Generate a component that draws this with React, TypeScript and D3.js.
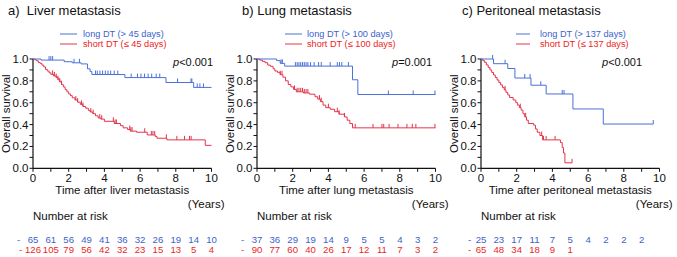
import React from "react";
import * as d3 from "d3";

const W = 677, H = 257;
const FONT = "'Liberation Sans', Arial, Helvetica, sans-serif";
const BLUE_LINE = "#4a70d8";
const RED_LINE = "#e3344a";
const BLUE_TXT = "#3c63cc";
const RED_TXT = "#ee2424";

// ---------- data ----------
const titles = ["a)  Liver metastasis", "b) Lung metastasis", "c) Peritoneal metastasis"];
const xLabels = ["Time after liver metastasis", "Time after lung metastasis", "Time after peritoneal metastasis"];
const longLabels = ["long DT (> 45 days)", "long DT (> 100 days)", "long DT (> 137 days)"];
const shortLabels = ["short DT (\u2264 45 days)", "short DT (\u2264 100 days)", "short DT (\u2264 137 days)"];
const pOps = ["<", "=", "<"];
const pValues = ["0.001", "0.001", "0.001"];
const xTicks = [0, 2, 4, 6, 8, 10];
const yTicks = [0, 0.2, 0.4, 0.6, 0.8, 1.0];

const riskLong = [
  [65, 61, 56, 49, 41, 36, 32, 26, 19, 14, 10],
  [37, 36, 29, 19, 14, 9, 5, 5, 4, 3, 2],
  [25, 23, 17, 11, 7, 5, 4, 2, 2, 2],
];
const riskShort = [
  [126, 105, 79, 56, 42, 32, 23, 15, 13, 5, 4],
  [90, 77, 60, 40, 26, 17, 12, 11, 7, 3, 2],
  [65, 48, 34, 18, 9, 1],
];

// survival steps [time, survival]
const liverLong = [[0, 1], [0.45, 0.99], [1.75, 0.975], [2.2, 0.965], [2.7, 0.955], [3.05, 0.91], [3.2, 0.885], [3.3, 0.858], [5.15, 0.83], [7.45, 0.785], [9.0, 0.74], [10, 0.74]];
const liverShort = [[0, 1], [0.1, 0.992], [0.2, 0.984], [0.3, 0.968], [0.4, 0.96], [0.5, 0.944], [0.6, 0.928], [0.7, 0.905], [0.8, 0.89], [0.9, 0.874], [1.0, 0.86], [1.15, 0.845], [1.3, 0.83], [1.4, 0.81], [1.5, 0.79], [1.6, 0.765], [1.7, 0.745], [1.8, 0.72], [1.9, 0.7], [2.0, 0.68], [2.1, 0.665], [2.2, 0.645], [2.35, 0.625], [2.5, 0.605], [2.65, 0.585], [2.8, 0.565], [2.95, 0.55], [3.1, 0.53], [3.2, 0.515], [3.35, 0.5], [3.5, 0.48], [3.65, 0.46], [3.8, 0.45], [4.0, 0.43], [4.55, 0.41], [4.9, 0.39], [5.05, 0.37], [5.3, 0.355], [5.45, 0.34], [5.8, 0.33], [6.4, 0.305], [6.85, 0.29], [6.95, 0.275], [7.5, 0.26], [9.65, 0.21], [10, 0.21]];
const lungLong = [[0, 1], [1.1, 0.985], [1.3, 0.96], [1.55, 0.935], [5.35, 0.81], [5.65, 0.675], [10, 0.675]];
const lungShort = [[0, 1], [0.15, 0.99], [0.3, 0.978], [0.45, 0.966], [0.6, 0.944], [0.75, 0.933], [0.9, 0.911], [1.0, 0.89], [1.15, 0.878], [1.3, 0.856], [1.45, 0.834], [1.6, 0.8], [1.75, 0.767], [1.9, 0.745], [2.05, 0.722], [2.2, 0.7], [2.6, 0.689], [2.95, 0.678], [3.25, 0.655], [3.4, 0.633], [3.55, 0.61], [3.7, 0.578], [3.85, 0.555], [4.1, 0.54], [4.35, 0.518], [4.6, 0.495], [4.9, 0.47], [5.05, 0.44], [5.2, 0.41], [5.35, 0.37], [10, 0.37]];
const peritLong = [[0, 1], [0.7, 0.957], [1.5, 0.913], [1.9, 0.826], [2.8, 0.76], [3.65, 0.68], [5.15, 0.543], [6.85, 0.405], [9.65, 0.405]];
const peritShort = [[0, 1], [0.1, 0.985], [0.2, 0.97], [0.3, 0.946], [0.4, 0.923], [0.5, 0.9], [0.6, 0.877], [0.7, 0.854], [0.8, 0.831], [0.9, 0.808], [1.0, 0.785], [1.1, 0.763], [1.2, 0.74], [1.3, 0.717], [1.4, 0.694], [1.5, 0.671], [1.6, 0.648], [1.8, 0.625], [1.95, 0.6], [2.05, 0.578], [2.15, 0.555], [2.25, 0.532], [2.35, 0.5], [2.45, 0.47], [2.55, 0.44], [2.65, 0.41], [2.95, 0.395], [3.05, 0.36], [3.15, 0.33], [3.3, 0.3], [3.45, 0.26], [4.45, 0.235], [4.55, 0.19], [4.62, 0.14], [4.7, 0.05], [5.1, 0.05]];

// censoring times
const liverLongCens = [0.9, 1.0, 1.1, 2.3, 2.6, 3.5, 3.6, 3.75, 3.9, 4.05, 4.2, 4.35, 4.55, 4.75, 5.5, 5.85, 6.05, 6.25, 6.45, 6.65, 6.9, 7.1, 8.1, 8.85, 8.9, 9.2, 9.35, 9.55];
const liverShortCens = [1.1, 1.2, 1.3, 1.4, 1.5, 1.6, 2.4, 2.5, 2.72, 2.8, 3.24, 3.37, 3.74, 3.85, 4.5, 4.6, 4.67, 5.42, 5.48, 5.55, 6.26, 6.63, 6.72, 6.82, 7.47, 8.06, 8.49, 8.77, 8.86];
const lungLongCens = [1.35, 1.42, 2.15, 2.25, 2.35, 2.45, 2.55, 2.65, 2.75, 2.85, 3.0, 3.2, 3.45, 3.6, 4.1, 4.5, 4.62, 4.75, 5.12, 7.36, 8.75, 9.97];
const lungShortCens = [1.3, 1.4, 2.1, 2.25, 2.35, 2.45, 2.55, 2.65, 2.75, 2.85, 3.5, 3.6, 4.0, 4.5, 4.6, 4.9, 5.5, 6.5, 7.0, 7.1, 7.4, 7.9, 8.4, 8.7, 8.9, 9.97];
const peritLongCens = [0.65, 1.35, 2.45, 2.75, 3.35, 4.55, 4.65, 9.65];
const peritShortCens = [1.35, 2.2, 2.5, 3.4, 3.5, 3.65, 4.15, 5.1];

const longCurves = [liverLong, lungLong, peritLong];
const shortCurves = [liverShort, lungShort, peritShort];
const longCens = [liverLongCens, lungLongCens, peritLongCens];
const shortCens = [liverShortCens, lungShortCens, peritShortCens];

// ---------- layout ----------
const plotLefts = [33, 257, 481];
const plotW = 178.5;
const plotTop = 59;
const plotBottom = 168.3;
const titleX = [8, 242, 462];
const legendLineX = [60, 285, 516];
const legendLineLen = [17, 17, 14];
const legendTextX = [83, 307, 540];
const pX = [173, 392, 602];
const dashLongX = [17, 241, 468];
const dashShortX = [19, 241, 468];

function valueAt(steps: number[][], t: number) {
  let v = steps[0][1];
  for (const s of steps) if (s[0] <= t) v = s[1];
  return v;
}

function Panel({ i }: { i: number }) {
  const x0 = plotLefts[i];
  const x = d3.scaleLinear().domain([0, 10]).range([x0, x0 + plotW]);
  const y = d3.scaleLinear().domain([0, 1]).range([plotBottom, plotTop]);
  const line = d3.line<number[]>().x(d => x(d[0])).y(d => y(d[1])).curve(d3.curveStepAfter);
  const minorX = d3.range(0, 11, 1);
  const minorY = d3.range(0, 11, 1).map(v => v / 10);
  const curves = [
    { steps: shortCurves[i], cens: shortCens[i], color: RED_LINE },
    { steps: longCurves[i], cens: longCens[i], color: BLUE_LINE },
  ];
  const cx = (x(0) + x(10)) / 2;
  const cy = (plotTop + plotBottom) / 2;
  return (
    <g fontFamily={FONT}>
      <text x={titleX[i]} y={14.5} fontSize={13} fill="#111" style={{ whiteSpace: "pre" }}>{titles[i]}</text>
      {/* legend */}
      <line x1={legendLineX[i]} x2={legendLineX[i] + legendLineLen[i]} y1={34} y2={34} stroke={BLUE_LINE} strokeWidth={1} />
      <text x={legendTextX[i]} y={37} fontSize={9.2} fill={BLUE_TXT}>{longLabels[i]}</text>
      <line x1={legendLineX[i]} x2={legendLineX[i] + legendLineLen[i]} y1={44} y2={44} stroke={RED_LINE} strokeWidth={1} />
      <text x={legendTextX[i]} y={47.2} fontSize={9.2} fill={RED_TXT}>{shortLabels[i]}</text>
      {/* p value */}
      <text x={pX[i]} y={66} fontSize={11} fill="#111"><tspan fontStyle="italic">p</tspan>{pOps[i] + pValues[i]}</text>
      {/* axes */}
      <line x1={x(0)} x2={x(10)} y1={plotBottom} y2={plotBottom} stroke="#111" strokeWidth={1.2} />
      <line x1={x(0)} x2={x(0)} y1={plotTop} y2={plotBottom} stroke="#111" strokeWidth={1.2} />
      {minorX.map(t => (
        <line key={"mx" + t} x1={x(t)} x2={x(t)} y1={plotBottom} y2={plotBottom + 3.5} stroke="#111" strokeWidth={1} />
      ))}
      {minorY.map(v => (
        <line key={"my" + v} x1={x(0) - 3.5} x2={x(0)} y1={y(v)} y2={y(v)} stroke="#111" strokeWidth={1} />
      ))}
      {xTicks.map(t => (
        <text key={"xt" + t} x={x(t)} y={182} fontSize={11.5} textAnchor="middle" fill="#111">{t}</text>
      ))}
      {yTicks.map(v => (
        <text key={"yt" + v} x={x(0) - 4.5} y={y(v) + 4} fontSize={11.5} textAnchor="end" fill="#111">{v.toFixed(1)}</text>
      ))}
      <text x={cx} y={193.5} fontSize={11.5} textAnchor="middle" fill="#111">{xLabels[i]}</text>
      <text x={x(10) + 13} y={208} fontSize={11.5} textAnchor="end" fill="#111">(Years)</text>
      <text transform={`translate(${x(0) - 23},${cy}) rotate(-90)`} fontSize={11.5} textAnchor="middle" fill="#111">Overall survival</text>
      {/* curves */}
      {curves.map((c, k) => (
        <g key={"c" + k}>
          <path d={line(c.steps) || ""} fill="none" stroke={c.color} strokeWidth={1} />
          {c.cens.map((t, j) => {
            const yy = y(valueAt(c.steps, t));
            return <line key={j} x1={x(t)} x2={x(t)} y1={yy} y2={yy - 4} stroke={c.color} strokeWidth={1} />;
          })}
        </g>
      ))}
      {/* number at risk */}
      <text x={x(0) + 0} y={220} fontSize={11.5} fill="#111">Number at risk</text>
      <text x={dashLongX[i]} y={242.5} fontSize={9.6} fill={BLUE_TXT}>-</text>
      {riskLong[i].map((n, j) => (
        <text key={"rl" + j} x={x(j)} y={242.5} fontSize={9.6} textAnchor="middle" fill={BLUE_TXT}>{n}</text>
      ))}
      <text x={dashShortX[i]} y={252.5} fontSize={9.6} fill={RED_TXT}>-</text>
      {riskShort[i].map((n, j) => (
        <text key={"rs" + j} x={x(j)} y={252.5} fontSize={9.6} textAnchor="middle" fill={RED_TXT}>{n}</text>
      ))}
    </g>
  );
}

export default function App() {
  return (
    <svg width={W} height={H} viewBox={`0 0 ${W} ${H}`} style={{ position: "absolute", left: 0, top: 0, background: "#fff" }}>
      <rect x={0} y={0} width={W} height={H} fill="#fff" />
      {[0, 1, 2].map(i => <Panel key={i} i={i} />)}
    </svg>
  );
}
